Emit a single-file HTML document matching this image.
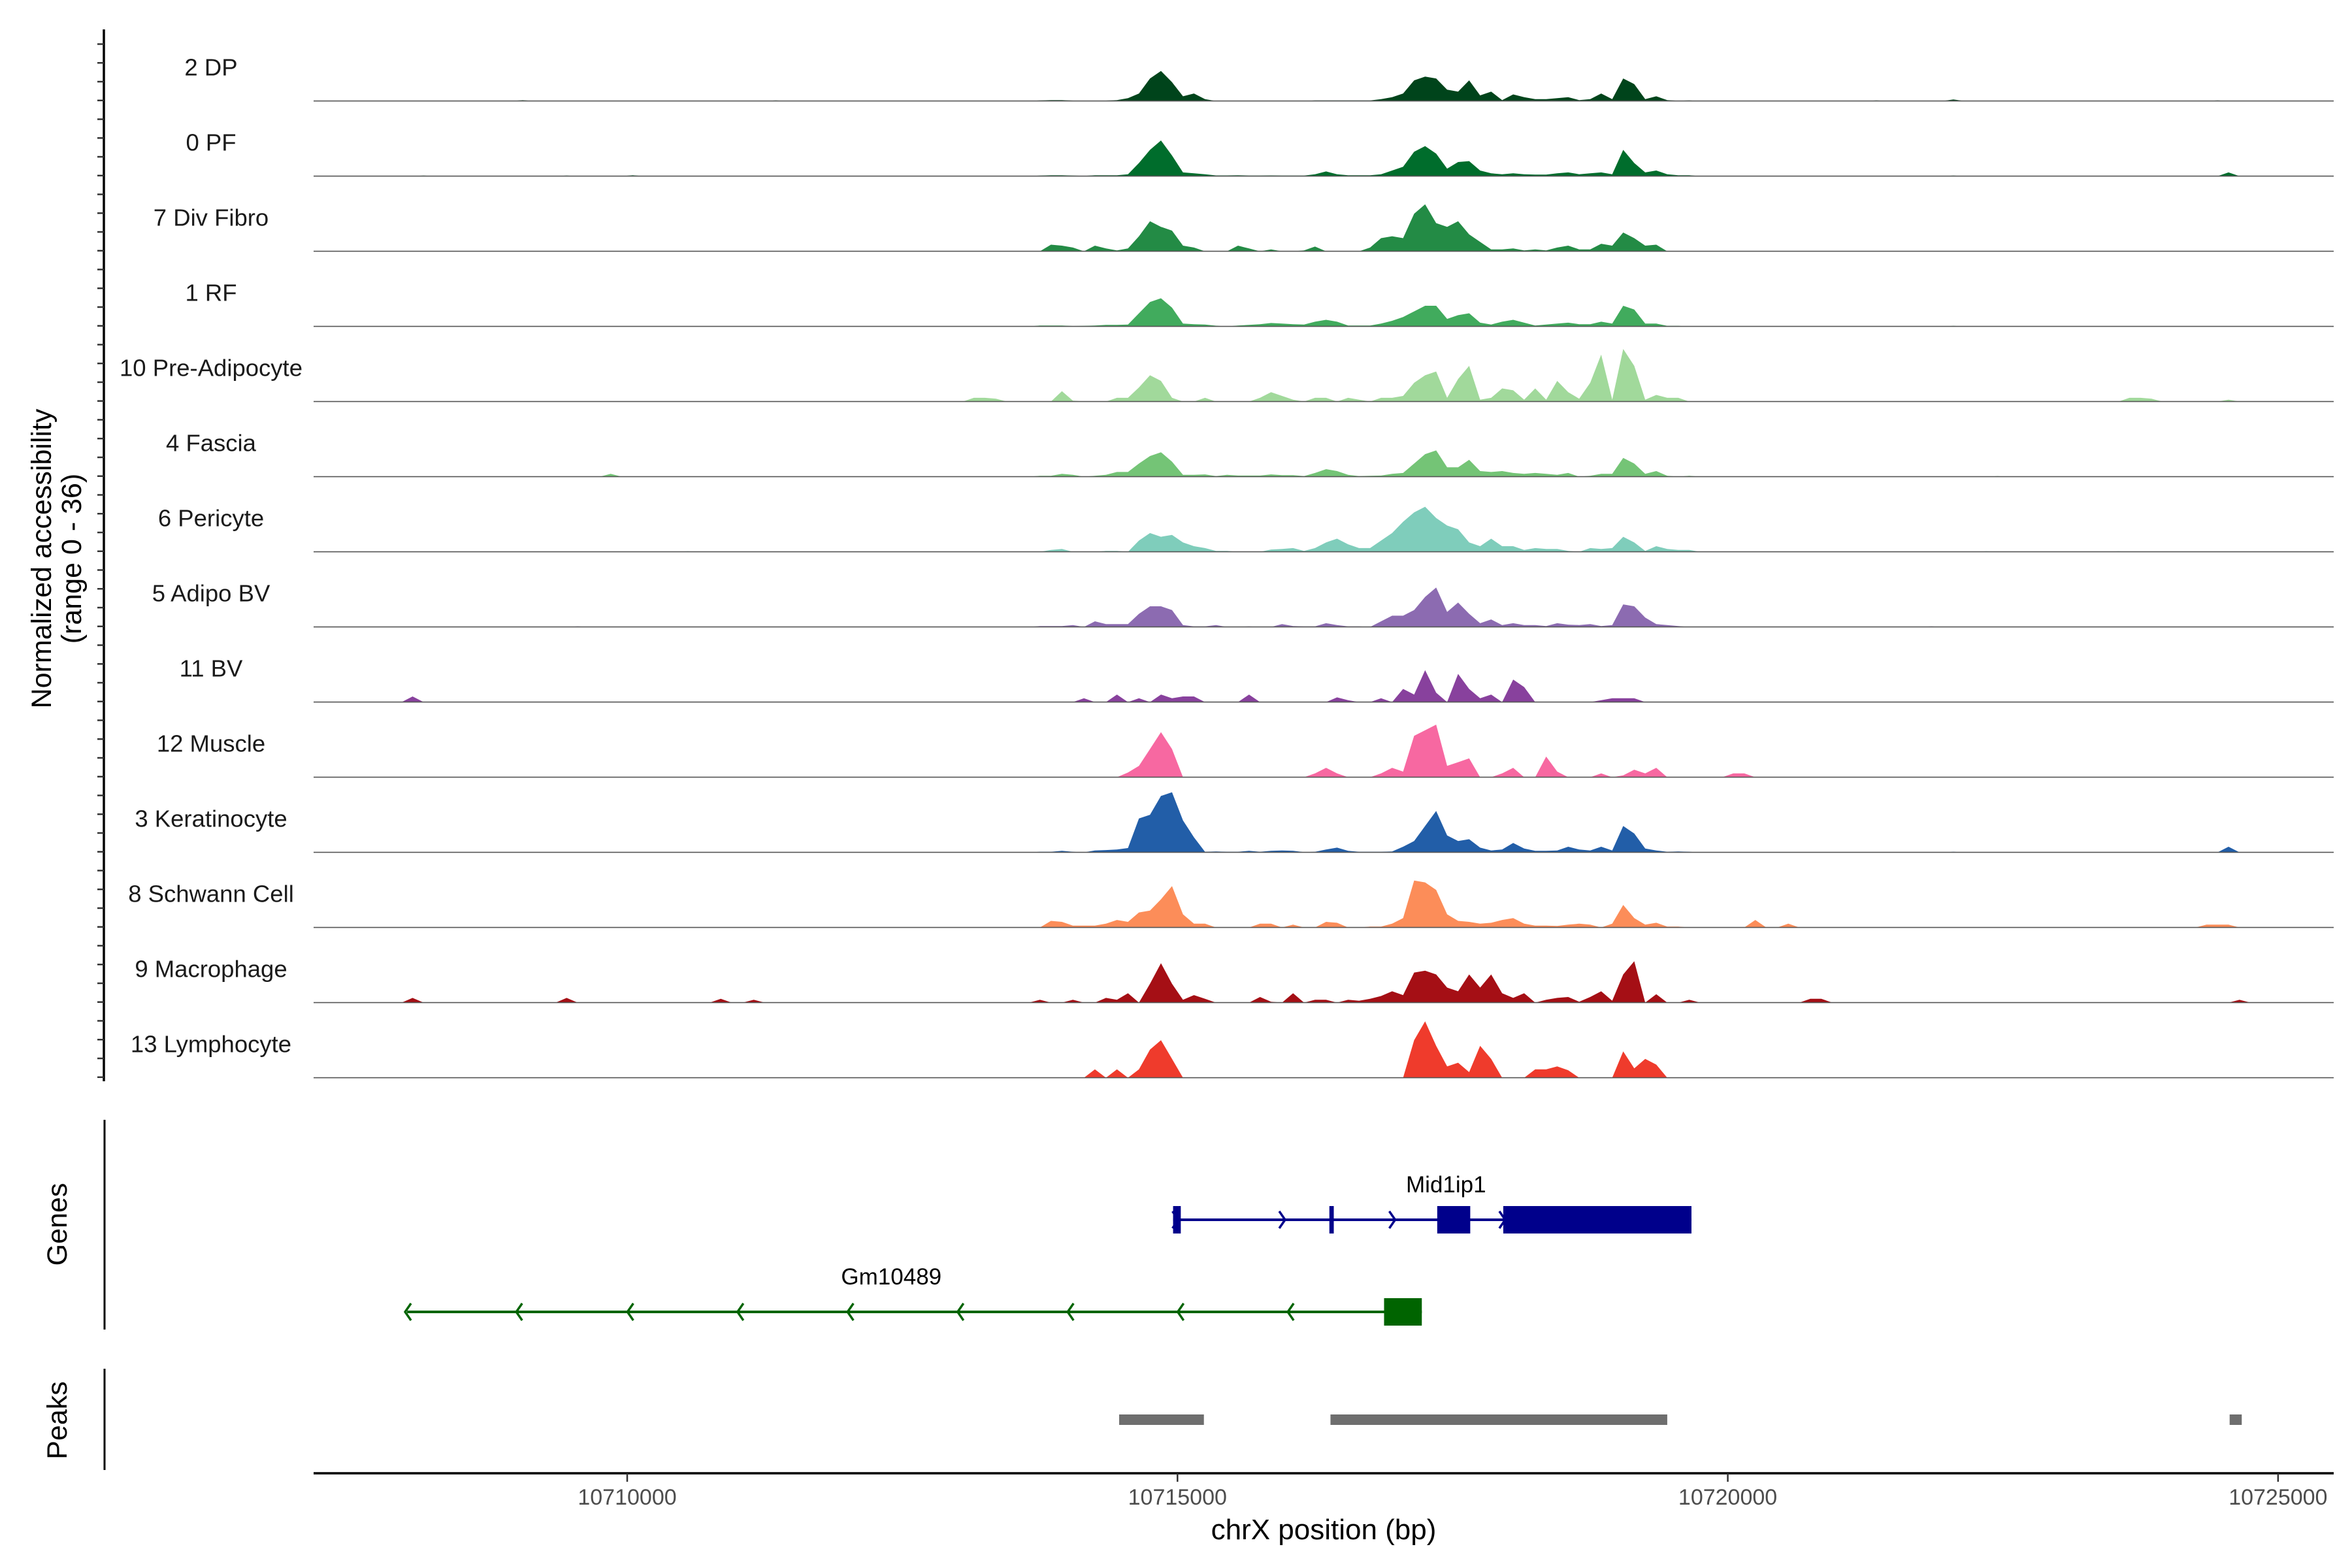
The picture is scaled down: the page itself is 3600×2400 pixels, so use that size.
<!DOCTYPE html>
<html><head><meta charset="utf-8"><style>
html,body{margin:0;padding:0;background:#fff;}
svg{display:block;font-family:"Liberation Sans",Arial,sans-serif;}
</style></head><body>
<svg id="chart" width="3600" height="2400" viewBox="0 0 3600 2400" xmlns="http://www.w3.org/2000/svg">
<g id="tracks"></g>
<g id="yaxis"></g>
<text transform="translate(78,855) rotate(-90)" text-anchor="middle" font-size="43" fill="#000">Normalized accessibility</text>
<text transform="translate(124,855) rotate(-90)" text-anchor="middle" font-size="43" fill="#000">(range 0 - 36)</text>
<g id="genes"></g>
<text transform="translate(102,1874) rotate(-90)" text-anchor="middle" font-size="43" fill="#000">Genes</text>
<line x1="160" y1="1714" x2="160" y2="2035" stroke="#000" stroke-width="3"/>
<g id="peaks"></g>
<text transform="translate(102,2174) rotate(-90)" text-anchor="middle" font-size="43" fill="#000">Peaks</text>
<line x1="160" y1="2095" x2="160" y2="2250" stroke="#000" stroke-width="3"/>
<g id="xaxis"></g>
<text x="2026" y="2356" text-anchor="middle" font-size="44" fill="#000">chrX position (bp)</text>
</svg>
<script>
const trackNames = ["2 DP","0 PF","7 Div Fibro","1 RF","10 Pre-Adipocyte","4 Fascia","6 Pericyte","5 Adipo BV","11 BV","12 Muscle","3 Keratinocyte","8 Schwann Cell","9 Macrophage","13 Lymphocyte"];
const trackColors = ["#00441b","#006d2c","#238b45","#41ab5d","#a1d99b","#74c476","#7fcdbb","#8c6bb1","#88419d","#f768a1","#225ea8","#fc8d59","#a50f15","#ef3b2c"];
const binStart = 10713700;
const binSize = 100;
const dp = [0.3,0.5,0.5,0.2,0,0.2,0.2,0.5,1.5,4, 12,16,10,2.5,4,1,0,0.2,0,0, 0.2,0,0,0,0,0.3,0.3,0.3,0.3,0.3, 0.3,1,2,4,11,13,12,6,5,11, 3,5,0.5,3.5,2,1,1,1.5,2,0.5, 1,4,1,12,9,1,2.5,0.5,0.1,0.3];
const pf = [0.3,0.5,0.5,0.3,0.1,0.5,0.5,0.5,1,7, 14,19,11,2,1.5,1,0.4,0.4,0.5,0.3, 0.3,0.4,0.3,0.3,0.3,1,2.5,1,0.5,0.5, 0.5,1,3,5,13,16,12,4,7.5,8, 3,1.5,1,1.5,1,0.8,0.8,1.5,2,1, 1.5,2,1,14,7,2,3,1,0.5,0.5];
const divFibro = [0,3.5,3,2,0,3,1.5,0.5,1.5,8, 16,13,11,3,2,0,0,0,3,1.5, 0,1,0,0,0.5,2.5,0,0,0,0, 2,7,8,7,20,25,15,13,16,9, 5,1,1,1.5,0.5,1,0.5,2,3,1, 1,4,3,10,7,3,3.5,0,0,0];
const rf = [0.5,0.5,0.5,0.2,0.3,0.5,0.8,0.8,1,7, 13,15,10,1.5,1.2,1,0.4,0,0.5,0.8, 1.2,1.8,1.5,1.2,1,2.5,3.5,2.5,0.5,0.5, 0.5,1.5,3,5,8,11,11,4,6,7, 2,1,2.5,3.5,2,0.5,1,1.5,2,1.2, 1.2,2.5,1.5,11,9,1.5,1.5,0.3,0.3,0];
const preAdipocyte = [0,0,5.5,0.5,0,0,0,2,2,7.5, 14,11,2,0,0,2,0,0,0,0, 2,5,3,1,0,2,2,0,2,1, 0,2,2,3,10,14,16,2,12,19, 1,2,7,6,1,7,1,11,5,1.5, 10,25,1,28,19,1,3.5,2,2,0];
const fascia = [0.5,0.5,1.5,1,0,0.5,1,2.5,2.5,7, 11,13,8,1,1,1.2,0.3,1,0.6,0.6, 0.6,1.2,0.8,0.8,0.3,2,4,3,1,0.3, 0.5,0.6,1.5,2,7,12,14,5,5,9, 3,2.5,3,2,1.5,2,1.5,1,2,0, 0.5,1.5,1.5,10,7,1.5,3,0.5,0,0.5];
const pericyte = [0,1,1.5,0,0,0,0.5,0.5,0,6, 10,8,9,5,3,2,0.5,0.5,0,0, 0,1.2,1.5,2,0.5,2,5,7,4,2, 2,6,10,16,21,24,18,14,12,5, 3,7,3,3,1,2,1.5,1.5,0.5,0, 2,1.5,2,8,5,0.5,3,1.5,1,1];
const adipoBV = [0.5,0.5,0.5,1,0,3,1.5,1.5,1.5,7, 11,11,9,1,0.3,0.3,1,0,0,0.3, 0,0,1.5,0.5,0.3,0.3,2,1,0.3,0.3, 0,3,6,6,9,16,21,8,13,7, 2,4,1,2,1,1,0.5,2,1.2,1, 1.5,0.5,1,12,11,5,1.5,1,0.5,0];
const bv = [0,0,0,0,2,0,0,4,0,2, 0,4,2,3,3,0,0,0,0,4, 0,0,0,0,0,0,0,2.5,1,0, 0,2,0,7,4,17,5,0,15,7, 2,4,0,12,8,0,0,0,0,0, 0,1,2,2,2,0,0,0,0,0];
const muscle = [0,0,0,0,0,0,0,0,2.5,6, 15,24,15,0,0,0,0,0,0,0, 0,0,0,0,0,2,5,2,0,0, 0,2,5,3,22,25,28,6,8,10, 0,0,2,5,0,0,11,3,0,0, 0,2,0,1,4,2,5,0,0,0];
const keratinocyte = [0.3,0.3,0.8,0.3,0,1,1.2,1.5,2.3,18, 20,30,32,17,8,0.3,0.5,0.3,0.3,0.8, 0.3,0.8,1,0.8,0.1,0.3,1.5,2.5,0.8,0.3, 0.3,0.3,0.5,3,6,14,22,9,6,7, 2.5,1,1.5,5,2,0.8,0.8,1,3,1.5, 1,3,1,14,10,2,1,0.3,0.5,0.3];
const schwann = [0,3.5,3,1,1,1,2,4,3,8, 9,15,22,7,2,2,0,0,0,0, 2,2,0,1.5,0,0,3,2.5,0,0, 0.5,0.5,2,5,25,24,20,7,3.5,3, 2,2.5,4,5,2,1,1,0.8,1.5,2, 1.5,0,2,12,5,1.5,2.5,0.5,0.5,0];
const macrophage = [1.5,0,0,1.5,0,0,2.5,1.5,5,0, 10,21,10,1.5,4,2,0,0,0,0, 3,0.5,0,5,0,1.5,1.5,0,1.5,1, 2,3.5,6,4,16,17,15,8,6,15, 8,15,5,2.5,5,0,1.5,2.5,3,0.5, 3,6,1,15,22,0,4.5,0,0,1.5];
const lymphocyte = [0,0,0,0,0,4.5,0,4.5,0,4.5, 15,20,10,0,0,0,0,0,0,0, 0,0,0,0,0,0,0,0,0,0, 0,0,0,0,20,30,17,6,8,3, 17,10,0,0,0,4.5,4.5,6,4,0, 0,0,0,14,5,10,7,0,0,0];
const coverage = [dp,pf,divFibro,rf,preAdipocyte,fascia,pericyte,adipoBV,bv,muscle,keratinocyte,schwann,macrophage,lymphocyte];
// sparse coverage outside the main window: [bin start bp, value]
const extraBins = [
  [[10709000,0.4],[10711300,0.3],[10721300,0.3],[10722000,0.8],[10724400,0.3]],
  [[10708100,0.3],[10709400,0.3],[10710000,0.5],[10722000,0.3],[10724500,2]],
  [],
  [[10722000,0.3]],
  [[10713100,2],[10713200,2],[10713300,1.5],[10723600,2],[10723700,2],[10723800,1.5],[10724500,1]],
  [[10709800,1.5],[10722400,0.3]],
  [[10710500,0.3],[10722300,0.3],[10723500,0.3]],
  [[10709500,0.3],[10721800,0.3]],
  [[10708000,3]],
  [[10720000,2],[10720100,2]],
  [[10724500,3],[10722000,0.3]],
  [[10720200,4],[10720500,2],[10724300,1.5],[10724400,1.5],[10724500,1.5]],
  [[10708000,2.5],[10709400,2.5],[10710800,2],[10711100,1.5],[10720700,2],[10720800,2],[10724600,1.5]],
  []
];
const xTicks = [10710000,10715000,10720000,10725000];
const geneNames = ["Mid1ip1","Gm10489"];
const geneStart = [10714960,10708000];
const geneEnd = [10719670,10717220];
const geneStrand = [1,-1];
const geneExons = [[[10714960,10715030],[10716380,10716420],[10717360,10717660],[10717960,10719670]],[[10716877,10717220]]];
const geneArrows = [[10714990,10715960,10716960,10717960],[10708000,10709010,10710020,10711020,10712020,10713020,10714020,10715020,10716020]];
const geneLabelPos = [10717440,10712400];
const peakStart = [10714470,10716390,10724560];
const peakEnd = [10715240,10719450,10724670];

const NS="http://www.w3.org/2000/svg";
const X0=480, X1=3572;
function xScale(bp){return 960+(bp-10710000)*0.168456;}
const baseY0=154.6, trackGap=115.0, unitPx=2.875;
function yScale(t,v){return baseY0+t*trackGap - v*unitPx;}
function mk(tag,attrs,parent){const e=document.createElementNS(NS,tag);for(const k in attrs)e.setAttribute(k,attrs[k]);parent.appendChild(e);return e;}

const tg=document.getElementById('tracks');
const fullStart=10707100, nFull=185;
for(let t=0;t<coverage.length;t++){
  const dense=new Array(nFull).fill(0);
  const off=(binStart-fullStart)/binSize;
  coverage[t].forEach((v,i)=>{dense[off+i]=v;});
  extraBins[t].forEach(p=>{const i=Math.round((p[0]-fullStart)/binSize);if(i>=0&&i<nFull)dense[i]=p[1];});
  const base=yScale(t,0);
  let d='M'+X0+','+base;
  for(let i=0;i<nFull;i++){
    let x=xScale(fullStart+i*binSize+binSize/2);
    x=Math.max(X0,Math.min(X1,x));
    d+=' L'+x.toFixed(1)+','+yScale(t,dense[i]).toFixed(1);
  }
  d+=' L'+X1+','+base+' Z';
  const g=mk('g',{},tg);
  
  
  const p=mk('path',{d:d,fill:trackColors[t],stroke:'none'},g);
  
  
  const l=mk('line',{x1:X0,x2:X1,y1:base,y2:base,stroke:'#555','stroke-width':1.6},g);
  
  
  const tx=mk('text',{x:323,y:base-39,'text-anchor':'middle','font-size':36.5,fill:'#1a1a1a'},g);
  tx.textContent=trackNames[t];
  
  
}

const ya=document.getElementById('yaxis');
const al=mk('line',{x1:159,x2:159,y1:45,y2:1655,stroke:'#000','stroke-width':3.5},ya);


for(let y=67.5;y<1655;y+=28.75){
  const tk=mk('line',{x1:149,x2:159,y1:y,y2:y,stroke:'#333','stroke-width':2.5},ya);
  
  
}

const gg=document.getElementById('genes');
const geneY=[1867,2008], geneCol=["#00008b","#006400"], exH=[21,21];
for(let g=0;g<geneNames.length;g++){
  const grp=mk('g',{},gg);
  
  
  const y=geneY[g];
  mk('line',{x1:xScale(geneStart[g]),x2:xScale(geneEnd[g]),y1:y,y2:y,stroke:geneCol[g],'stroke-width':4},grp);
  geneExons[g].forEach(e=>{
    const x1=xScale(e[0]),x2=xScale(e[1]);
    const r=mk('rect',{x:x1,y:y-exH[g],width:Math.max(4,x2-x1),height:exH[g]*2,fill:geneCol[g]},grp);
    
    
  });
  geneArrows[g].forEach(a=>{
    const x=xScale(a), s=geneStrand[g];
    mk('polyline',{points:(x-6*s)+','+(y-13)+' '+(x+3*s)+','+y+' '+(x-6*s)+','+(y+13),fill:'none',stroke:geneCol[g],'stroke-width':3.5},grp);
  });
  const lab=mk('text',{x:xScale(geneLabelPos[g]),y:y-42,'text-anchor':'middle','font-size':35,fill:'#000'},grp);
  lab.textContent=geneNames[g];
  
  
}

const pg=document.getElementById('peaks');
for(let i=0;i<peakStart.length;i++){
  const r=mk('rect',{x:xScale(peakStart[i]),y:2165,width:xScale(peakEnd[i])-xScale(peakStart[i]),height:16,fill:'#6e6e6e'},pg);
  
  
}

const xa=document.getElementById('xaxis');
const xl=mk('line',{x1:X0,x2:X1,y1:2255,y2:2255,stroke:'#000','stroke-width':3.5},xa);


xTicks.forEach(v=>{
  const x=xScale(v);
  const tk=mk('line',{x1:x,x2:x,y1:2255,y2:2268,stroke:'#333','stroke-width':2.5},xa);
  
  
  const t=mk('text',{x:x,y:2303,'text-anchor':'middle','font-size':34,fill:'#4d4d4d'},xa);
  t.textContent=String(v);
  
  
});
</script>
</body></html>
